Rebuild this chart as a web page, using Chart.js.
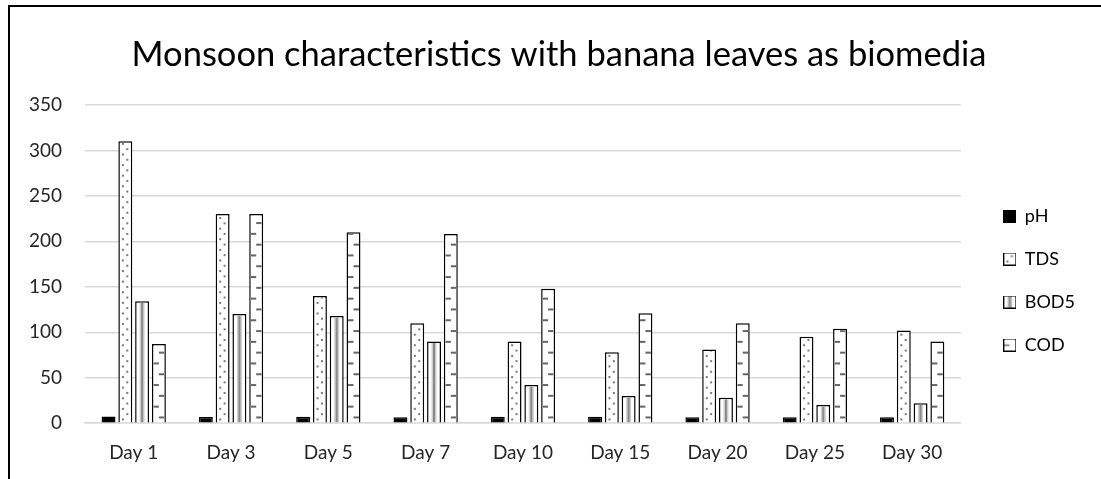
<!DOCTYPE html>
<html>
<head>
<meta charset="utf-8">
<script src="https://cdn.jsdelivr.net/npm/chart.js@4"></script>
<style>
  html, body { margin: 0; padding: 0; background: #fff; overflow: hidden; }
  #wrap {
    position: absolute; left: 8px; top: 5px;
    width: 1093px; height: 474px;
    border-left: 2px solid #000; border-top: 2px solid #000;
  }
  canvas { display: block; }
</style>
</head>
<body>
<div id="wrap"><canvas id="chart" width="1091" height="472"></canvas></div>
<script>
const days = ['Day 1', 'Day 3', 'Day 5', 'Day 7', 'Day 10', 'Day 15', 'Day 20', 'Day 25', 'Day 30'];
const ph   = [7.5, 6.8, 7, 6.5, 7, 7, 6.5, 6.5, 6.5];
const tds  = [310, 230, 140, 110, 90, 78, 81, 95, 102];
const bod5 = [134, 120, 118, 90, 42, 30, 28, 20, 22];
const cod  = [87, 230, 210, 208, 148, 121, 110, 104, 90];
const yTicks = [0, 50, 100, 150, 200, 250, 300, 350];

const seriesNames = ['pH', 'TDS', 'BOD5', 'COD'];
const patternKinds = ['solid', 'dots', 'vstripe', 'dashes'];
const BW = 1.5;
const FONT = 'Lato';

// fill pattern inside a rect (already clipped)
function drawPattern(ctx, kind, left, top, w, h) {
  const bottom = top + h;
  if (kind === 'dots') {
    ctx.fillStyle = '#7a7a7a';
    for (let r = 0, yy = bottom - 3; yy > top - 2; r++, yy -= 5.3) {
      const xx = left + (r % 2 ? w * 0.68 : w * 0.28);
      ctx.fillRect(xx - 1, yy - 1, 2, 2);
    }
  } else if (kind === 'vstripe') {
    const cx = left + w / 2;
    ctx.fillStyle = '#cfcfcf';
    ctx.fillRect(cx - 2.5, top, 5, h);
    ctx.fillStyle = '#8a8a8a';
    ctx.fillRect(cx - 1, top, 2, h);
  } else if (kind === 'dashes') {
    ctx.fillStyle = '#666';
    for (let r = 0, yy = bottom - 5; yy > top - 2; r++, yy -= 10.8) {
      if (r % 2 === 0) ctx.fillRect(left + w * 0.5, yy - 1, w * 0.5, 2);
      else ctx.fillRect(left, yy - 1, w * 0.5, 2);
    }
  }
}

const patternPlugin = {
  id: 'barPatterns',
  afterDatasetDraw(chart, args) {
    const kind = patternKinds[args.index];
    if (kind === 'solid') return;
    const ctx = chart.ctx;
    args.meta.data.forEach(bar => {
      const p = bar.getProps(['x', 'y', 'base', 'width'], true);
      const left = p.x - p.width / 2 + BW;
      const right = p.x + p.width / 2 - BW;
      const top = Math.min(p.y, p.base) + BW;
      const bottom = Math.max(p.y, p.base);
      if (bottom - top <= 0) return;
      ctx.save();
      ctx.beginPath();
      ctx.rect(left, top, right - left, bottom - top);
      ctx.clip();
      drawPattern(ctx, kind, left, top, right - left, bottom - top);
      ctx.restore();
    });
  }
};

// nudge legend and title boxes to where the original has them
const legendShift = { x: 18, y: 45 };
const titleShift = 11;
const boxNudge = {
  id: 'boxNudge',
  afterLayout(chart) {
    const lg = chart.legend;
    lg.left += legendShift.x; lg.right += legendShift.x;
    lg.top += legendShift.y; lg.bottom += legendShift.y;
    const tt = chart.titleBlock;
    if (tt) { tt.left += titleShift; tt.right += titleShift; }
  }
};

function legendIcon(kind) {
  const c = document.createElement('canvas');
  c.width = 13; c.height = 13;
  const g = c.getContext('2d');
  if (kind === 'solid') {
    g.fillStyle = '#000';
    g.fillRect(0, 0, 13, 13);
  } else {
    g.fillStyle = '#fff';
    g.fillRect(0, 0, 13, 13);
    g.save();
    g.beginPath(); g.rect(1, 1, 11, 11); g.clip();
    if (kind === 'dashes') {
      g.fillStyle = '#666';
      g.fillRect(1, 6, 5, 1.5);
    } else {
      drawPattern(g, kind, 1, 1, 11, 11);
    }
    g.restore();
    g.strokeStyle = '#000';
    g.lineWidth = 1;
    g.strokeRect(0.5, 0.5, 12, 12);
  }
  return c;
}

const valueSets = [ph, tds, bod5, cod];
const datasets = seriesNames.map((name, i) => ({
  label: name,
  data: valueSets[i],
  backgroundColor: i === 0 ? '#000' : '#fff',
  borderColor: '#000',
  borderWidth: BW,
  pointStyle: legendIcon(patternKinds[i]),
  categoryPercentage: 0.69,
  barPercentage: 0.83
}));

new Chart(document.getElementById('chart'), {
  type: 'bar',
  data: { labels: days, datasets: datasets },
  options: {
    responsive: false,
    animation: false,
    layout: { padding: { left: 19, right: 34, top: 0, bottom: 15 } },
    plugins: {
      title: {
        display: true,
        text: 'Monsoon characteristics with banana leaves as biomedia',
        color: '#000',
        font: { family: FONT, size: 34.5, weight: 'normal' },
        padding: { top: 27, bottom: 29.6 }
      },
      legend: {
        position: 'right',
        align: 'center',
        labels: {
          usePointStyle: true,
          boxWidth: 12,
          color: '#000',
          font: { family: FONT, size: 18 },
          padding: 25
        }
      },
      tooltip: { enabled: false }
    },
    scales: {
      x: {
        grid: { display: false, drawTicks: true, tickLength: 18 },
        border: { color: '#d9d9d9', width: 1.5 },
        ticks: { color: '#262626', font: { family: FONT, size: 19 }, padding: 0 }
      },
      y: {
        min: 0,
        max: 350,
        afterBuildTicks: axis => { axis.ticks = yTicks.map(v => ({ value: v })); },
        grid: { color: '#d9d9d9', lineWidth: 1.5, drawTicks: true, tickLength: 23, tickColor: 'rgba(0,0,0,0)' },
        border: { display: false },
        ticks: { color: '#262626', font: { family: FONT, size: 19 }, padding: 0 }
      }
    }
  },
  plugins: [patternPlugin, boxNudge]
});
</script>
</body>
</html>
